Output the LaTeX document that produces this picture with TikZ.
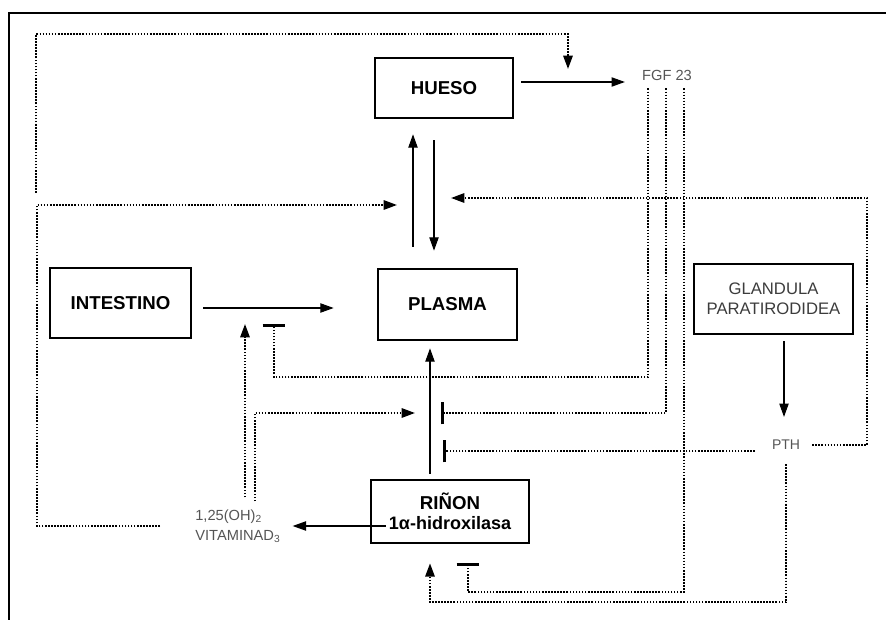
\documentclass[tikz,border=0pt]{standalone}
\usepackage{fontspec}
\setmainfont{Liberation Sans}
\usepackage{tikz}
\usetikzlibrary{arrows.meta}
\definecolor{labelgray}{RGB}{85,85,85}
\definecolor{boxgray}{RGB}{60,60,60}

\begin{document}
\begin{tikzpicture}[x=0.75pt,y=-0.75pt,
  box/.style={draw,line width=2pt,inner sep=0pt,align=center,
    font=\bfseries\fontsize{14}{15}\selectfont},
  lbl/.style={inner sep=0pt,text=labelgray,font=\fontsize{10.5}{15}\selectfont},
  arr/.style={line width=0.8pt,-{Triangle[length=10pt,width=7pt]}},
  dotline/.style={line width=1.5pt,dash pattern=on 1.2pt off 1.1pt},
  dotarr/.style={dotline,-{Triangle[length=10pt,width=7pt]}},
  dotbar/.style={dotline,-{Bar[width=17pt,line width=2pt]}}]
  \useasboundingbox (0,0) rectangle (886,620);
  % frame
  \draw[line width=1.4pt] (9,620) -- (9,13) -- (886,13);
  % boxes
  \node[box,minimum width=103.5pt,minimum height=45pt] (hueso) at (444,88) {HUESO};
  \node[box,minimum width=104.25pt,minimum height=53.25pt] (plasma) at (447.5,304.5) {PLASMA};
  \node[box,minimum width=105.75pt,minimum height=52.5pt] (intestino) at (120.5,303) {INTESTINO};
  \node[box,minimum width=119.25pt,minimum height=52.5pt,text=boxgray,
    font=\mdseries\fontsize{12.5}{15}\selectfont] (glandula) at (773.5,299) {GLANDULA\\PARATIRODIDEA};
  \node[box,minimum width=118.5pt,minimum height=47.25pt] (rinon) at (450,511.5)
    {RIÑON\\{\fontsize{13.5}{15}\selectfont 1α-hidroxilasa}};
  % labels
  \node[lbl,font=\fontsize{11}{15}\selectfont] (fgf) at (667,75) {FGF 23};
  \node[lbl] (pth) at (786,445) {PTH};
  \node[lbl,anchor=west,align=left,font=\fontsize{11}{15}\selectfont] (vitd) at (195,526)
    {1,25(OH)\textsubscript{2}\\VITAMINAD\textsubscript{3}};
  % free ends
  \coordinate (plasmaL) at (397,205);
  \coordinate (plasmaR) at (451,198);
  \coordinate (fgfin) at (568,69);
  \coordinate (intin) at (245,324);
  \coordinate (intbar) at (274,324);
  \coordinate (rinin) at (415,413);
  \coordinate (rinbarA) at (441,413);
  \coordinate (rinbarB) at (443,451);
  \coordinate (rinbarC) at (468,563);
  \coordinate (lbend) at (37,205);
  \coordinate (rbend) at (867,198);
  % solid arrows
  \draw[arr] ([shift={(7,-6)}]hueso.east) -- ([shift={(-17,7)}]fgf.west);
  \draw[arr] ([shift={(-34.5,-21)}]plasma.north) -- ([shift={(-31,15)}]hueso.south);
  \draw[arr] ([shift={(-10,21)}]hueso.south) -- ([shift={(-13.5,-17)}]plasma.north);
  \draw[arr] ([shift={(11,5)}]intestino.east) -- ([shift={(-43,3.5)}]plasma.west);
  \draw[arr] ([shift={(-20,-5)}]rinon.north) -- ([shift={(-17.5,7)}]plasma.south);
  \draw[arr] ([shift={(16,14.5)}]rinon.west) -- ([shift={(12,0)}]vitd.east);
  \draw[arr] ([shift={(10.5,6)}]glandula.south) -- ([shift={(-2,-23)}]pth.north);
  % FGF 23
  \draw[dotbar] ([shift={(-19,8)}]fgf.south) |- ([shift={(0,53)}]intbar) -- (intbar);
  \draw[dotbar] ([shift={(-1,8)}]fgf.south) |- (rinbarA);
  \draw[dotbar] ([shift={(17,8)}]fgf.south) |- ([shift={(0,29)}]rinbarC) -- (rinbarC);
  % PTH
  \draw[dotarr] ([shift={(12,0)}]pth.east) -| (rbend) -- (plasmaR);
  \draw[dotbar] ([shift={(-17,6)}]pth.west) -- (rinbarB);
  \draw[dotarr] ([shift={(0,14)}]pth.south) |- ([shift={(-20,58)}]rinon.south)
    -- ([shift={(-20,19)}]rinon.south);
  % vitamina D
  \draw[dotarr] ([shift={(50,-12)}]vitd.north west) -- (intin);
  \draw[dotarr] ([shift={(60,-8)}]vitd.north west) |- (rinin);
  \draw[dotarr] ([shift={(-35,0)}]vitd.west) -| (lbend) -- (plasmaL);
  \draw[dotarr] ([shift={(-1,-12)}]lbend) |- ([shift={(0,-35)}]fgfin) -- (fgfin);
\end{tikzpicture}
\end{document}
